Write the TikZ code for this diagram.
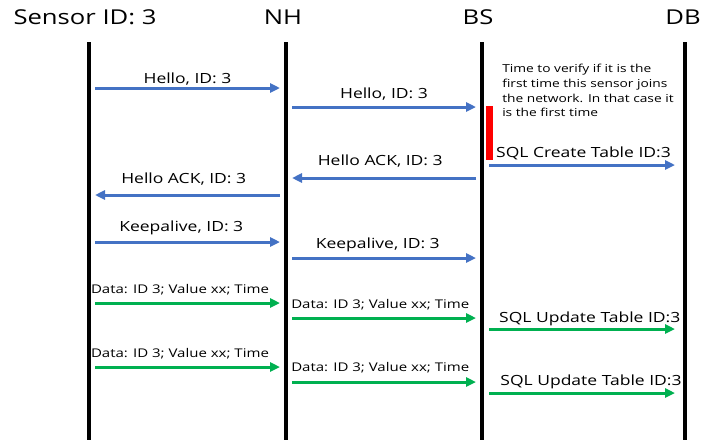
\documentclass[tikz,border=0pt]{standalone}
\usepackage{fontspec}
\setmainfont{Open Sans}
\usepackage{xcolor}
\usepackage{tikz}
\usetikzlibrary{arrows.meta}

\definecolor{msgblue}{HTML}{4472C4}
\definecolor{msggreen}{HTML}{00B050}

\begin{document}
\begin{tikzpicture}[x=1pt, y=-1pt,
					>={Triangle[length=10pt,width=9pt]},
					life/.style={line width=4.5pt, black},
					msg/.style={->, line width=3pt, shorten <=6pt, shorten >=6pt},
					hello/.style={msg, msgblue},
					data/.style={msg, msggreen},
					todb/.style={shorten <=7pt, shorten >=10pt},
					actor/.style={anchor=base, xscale=1.25, inner sep=0pt, font=\fontsize{20.5}{22}\selectfont},
					lbl/.style={anchor=base, xscale=1.25, text=black, inner sep=0pt, font=\fontsize{14}{16}\selectfont},
					small lbl/.style={lbl, font=\fontsize{12}{14}\selectfont}]

					\useasboundingbox (0,0) rectangle (701,442);

					\node[actor] (sensor) at (85,24) {Sensor ID: 3};
					\node[actor] (nh) at (283,24) {NH};
					\node[actor] (bs) at (478,24) {BS};
					\node[actor] (db) at (683,24) {DB};

					\coordinate (s) at (89,42);
					\coordinate (n) at (286,42);
					\coordinate (b) at (482,42);
					\coordinate (d) at (685,42);
					\coordinate (bot) at (0,440);
					\foreach \l in {s,n,b,d}
						\draw[life] (\l) -- (\l |- bot);

					\foreach \i/\y in {1/88, 2/107, 3/165, 4/178, 5/195, 6/242, 7/258, 8/303, 9/318, 10/329, 11/367, 12/382, 13/393}
						\coordinate (r\i) at (0,\y);

					\node[fill=red, anchor=north west, inner sep=0pt, minimum width=7pt, minimum height=54pt] (check) at (486,106) {};
					\node[anchor=north west, align=left, xscale=1.25, inner sep=0pt, font=\fontsize{11}{14.7}\selectfont] (note) at (502,64)
						{Time to verify if it is the\\first time this sensor joins\\the network. In that case it\\is the first time};

					\draw[hello] (s |- r1) -- node[lbl, yshift=5pt] {Hello, ID: 3} (n |- r1);
					\draw[hello] (n |- r2) -- node[lbl, yshift=9pt] {Hello, ID: 3} (b |- r2);
					\draw[hello, todb] (b |- r3) -- node[lbl, yshift=8pt] {SQL Create Table ID:3} (d |- r3);
					\draw[hello] (b |- r4) -- node[lbl, yshift=13pt, xshift=-3pt] {Hello ACK, ID: 3} (n |- r4);
					\draw[hello] (n |- r5) -- node[lbl, yshift=12pt, xshift=-3pt] {Hello ACK, ID: 3} (s |- r5);
					\draw[hello] (s |- r6) -- node[lbl, yshift=11pt, xshift=-5pt] {Keepalive, ID: 3} (n |- r6);
					\draw[hello] (n |- r7) -- node[lbl, yshift=10pt, xshift=-5pt] {Keepalive, ID: 3} (b |- r7);

					\draw[data] (s |- r8) -- node[small lbl, yshift=10pt, xshift=-6pt] {Data: ID 3; Value xx; Time} (n |- r8);
					\draw[data] (n |- r9) -- node[small lbl, yshift=10pt, xshift=-3pt] {Data: ID 3; Value xx; Time} (b |- r9);
					\draw[data, todb] (b |- r10) -- node[lbl, yshift=7pt, xshift=5pt] {SQL Update Table ID:3} (d |- r10);
					\draw[data] (s |- r11) -- node[small lbl, yshift=10pt, xshift=-6pt] {Data: ID 3; Value xx; Time} (n |- r11);
					\draw[data] (n |- r12) -- node[small lbl, yshift=11pt, xshift=-3pt] {Data: ID 3; Value xx; Time} (b |- r12);
					\draw[data, todb] (b |- r13) -- node[lbl, yshift=8pt, xshift=6pt] {SQL Update Table ID:3} (d |- r13);
				\end{tikzpicture}
\end{document}
